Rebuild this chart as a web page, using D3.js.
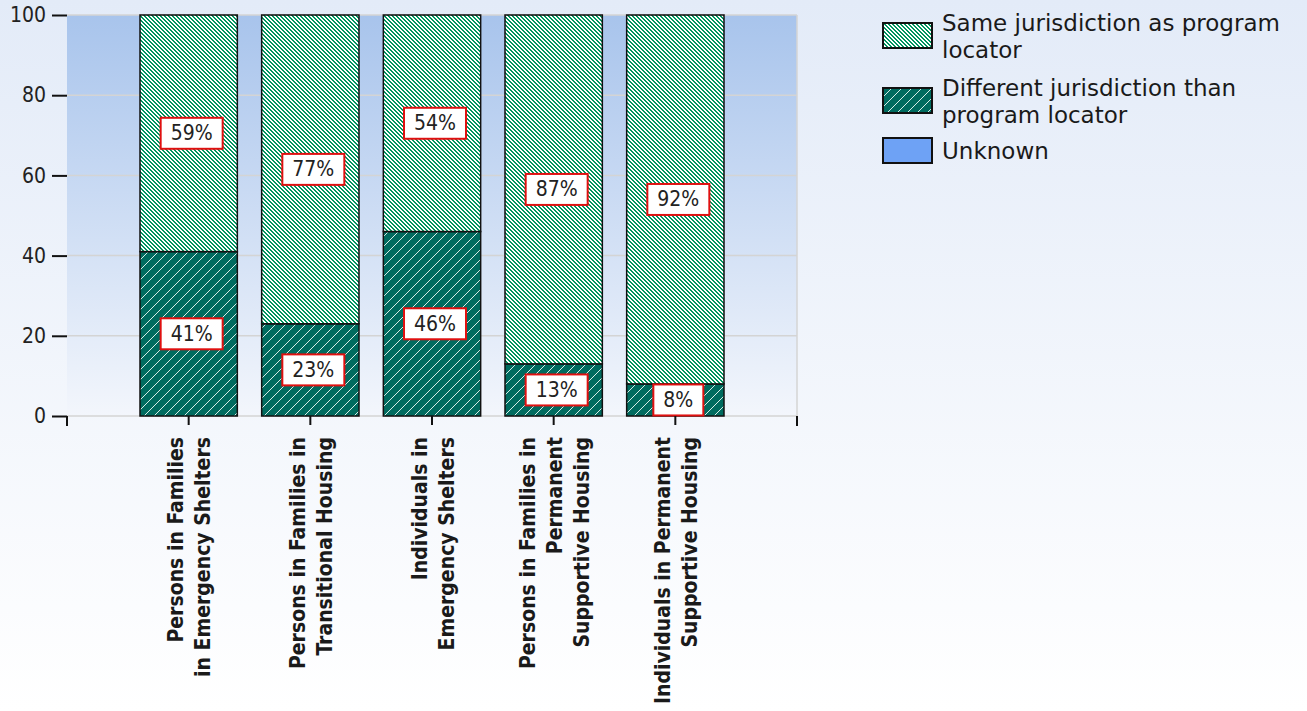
<!DOCTYPE html>
<html>
<head>
<meta charset="utf-8">
<script src="https://cdn.jsdelivr.net/npm/d3@7"></script>
<style>
  html, body { margin: 0; padding: 0; }
  body { width: 1307px; height: 711px; overflow: hidden; }
</style>
</head>
<body>
<svg id="chart" width="1307" height="711"></svg>
<script>
// ---------------- data ----------------
const categories = [
  "Persons in Families in Emergency Shelters",
  "Persons in Families in Transitional Housing",
  "Individuals in Emergency Shelters",
  "Persons in Families in Permanent Supportive Housing",
  "Individuals in Permanent Supportive Housing"
];
const categoryLines = [
  ["Persons in Families", "in Emergency Shelters"],
  ["Persons in Families in", "Transitional Housing"],
  ["Individuals in", "Emergency Shelters"],
  ["Persons in Families in", "Permanent", "Supportive Housing"],
  ["Individuals in Permanent", "Supportive Housing"]
];
const differentJurisdiction = [41, 23, 46, 13, 8];
const sameJurisdiction = [59, 77, 54, 87, 92];
const unknownJurisdiction = [0, 0, 0, 0, 0];
const seriesNames = [
  "Same jurisdiction as program locator",
  "Different jurisdiction than program locator",
  "Unknown"
];
const legendLines = [
  ["Same jurisdiction as program", "locator"],
  ["Different jurisdiction than", "program locator"],
  ["Unknown"]
];
const yTicks = [0, 20, 40, 60, 80, 100];

// ---------------- layout ----------------
const svg = d3.select("#chart");
const W = 1307, H = 711;
const plot = { left: 67, right: 797, top: 15, bottom: 416 };
const FONT = "'DejaVu Sans Condensed', 'DejaVu Sans', sans-serif";

const defs = svg.append("defs");

// page background gradient
const bgGrad = defs.append("linearGradient").attr("id", "bgGrad")
  .attr("x1", 0).attr("y1", 0).attr("x2", 0).attr("y2", 1);
bgGrad.append("stop").attr("offset", "0%").attr("stop-color", "#e3ebf8");
bgGrad.append("stop").attr("offset", "100%").attr("stop-color", "#ffffff");

// plot background gradient
const plotGrad = defs.append("linearGradient").attr("id", "plotGrad")
  .attr("x1", 0).attr("y1", 0).attr("x2", 0).attr("y2", 1);
plotGrad.append("stop").attr("offset", "0%").attr("stop-color", "#a8c4ec");
plotGrad.append("stop").attr("offset", "100%").attr("stop-color", "#f3f6fc");

// hatch patterns (pixel-staircase diagonals)
const lightPat = defs.append("pattern").attr("id", "patSame")
  .attr("patternUnits", "userSpaceOnUse").attr("width", 4).attr("height", 4);
lightPat.append("rect").attr("width", 4).attr("height", 4).attr("fill", "#ffffff");
d3.range(4).forEach(r => {
  [r, (r + 1) % 4].forEach(c => {
    lightPat.append("rect").attr("x", c).attr("y", r).attr("width", 1).attr("height", 1)
      .attr("fill", "#00955f").attr("shape-rendering", "crispEdges");
  });
});

const darkPat = defs.append("pattern").attr("id", "patDiff")
  .attr("patternUnits", "userSpaceOnUse").attr("width", 10).attr("height", 10);
darkPat.append("rect").attr("width", 10).attr("height", 10).attr("fill", "#006b5f");
d3.range(10).forEach(r => {
  darkPat.append("rect").attr("x", 9 - r).attr("y", r).attr("width", 1).attr("height", 1)
    .attr("fill", "#d6ece6").attr("shape-rendering", "crispEdges");
});

svg.append("rect").attr("width", W).attr("height", H).attr("fill", "url(#bgGrad)");

// scales
const x = d3.scaleBand().domain(categories)
  .range([plot.left, plot.right]).paddingInner(0.2).paddingOuter(0.6);
const y = d3.scaleLinear().domain([0, 100]).range([plot.bottom, plot.top]);

// plot area
svg.append("rect")
  .attr("x", plot.left).attr("y", plot.top)
  .attr("width", plot.right - plot.left).attr("height", plot.bottom - plot.top)
  .attr("fill", "url(#plotGrad)");

// gridlines
svg.append("g").selectAll("line").data(yTicks).join("line")
  .attr("x1", plot.left).attr("x2", plot.right)
  .attr("y1", d => y(d)).attr("y2", d => y(d))
  .attr("stroke", "#d4d4d4").attr("stroke-width", 1.5);
svg.append("line")
  .attr("x1", plot.right).attr("x2", plot.right)
  .attr("y1", plot.top).attr("y2", plot.bottom)
  .attr("stroke", "#d4d4d4").attr("stroke-width", 1.5);

// stacked data
const rows = categories.map((c, i) => ({
  cat: c,
  different: differentJurisdiction[i],
  same: sameJurisdiction[i],
  unknown: unknownJurisdiction[i]
}));
const keys = ["different", "same", "unknown"];
const fills = { different: "url(#patDiff)", same: "url(#patSame)", unknown: "#6ea2f5" };
const stacked = d3.stack().keys(keys)(rows);

const barG = svg.append("g");
stacked.forEach(layer => {
  barG.append("g").selectAll("rect").data(layer.filter(d => d[1] - d[0] > 0)).join("rect")
    .attr("x", d => x(d.data.cat))
    .attr("width", x.bandwidth())
    .attr("y", d => y(d[1]))
    .attr("height", d => y(d[0]) - y(d[1]))
    .attr("fill", fills[layer.key])
    .attr("stroke", "#111")
    .attr("stroke-width", 1.5);
});

// value labels
const labG = svg.append("g");
stacked.forEach(layer => {
  layer.filter(d => d[1] - d[0] > 0).forEach(d => {
    const v = d[1] - d[0];
    const cx = x(d.data.cat) + x.bandwidth() / 2 + 3;
    const cy = y((d[0] + d[1]) / 2);
    const g = labG.append("g");
    const box = g.append("rect");
    const t = g.append("text")
      .attr("x", cx).attr("y", cy)
      .attr("text-anchor", "middle").attr("dominant-baseline", "central")
      .attr("font-family", FONT).attr("font-size", 21).attr("fill", "#222")
      .text(v + "%");
    const bb = t.node().getBBox();
    box.attr("x", bb.x - 10).attr("y", cy - 15.5)
      .attr("width", bb.width + 20).attr("height", 31)
      .attr("fill", "#ffffff").attr("stroke", "#e01010").attr("stroke-width", 2);
  });
});

// y axis
const yAxis = svg.append("g")
  .attr("transform", `translate(${plot.left},0)`)
  .call(d3.axisLeft(y).tickValues(yTicks).tickSize(15).tickPadding(6));
yAxis.select(".domain").remove();
yAxis.selectAll(".tick line").attr("stroke", "#111").attr("stroke-width", 2);
yAxis.selectAll(".tick text").attr("font-family", FONT).attr("font-size", 21).attr("fill", "#222");

// x axis
const xAxis = svg.append("g")
  .attr("transform", `translate(0,${plot.bottom})`)
  .call(d3.axisBottom(x).tickSize(9).tickFormat(""));
xAxis.select(".domain").remove();
xAxis.selectAll(".tick line").attr("stroke", "#111").attr("stroke-width", 2);
// end ticks
xAxis.append("g").selectAll("line").data(x.range()).join("line")
  .attr("x1", d => d).attr("x2", d => d).attr("y1", 0).attr("y2", 10)
  .attr("stroke", "#111").attr("stroke-width", 2);

// x category labels
const lineH = 27;
const catG = svg.append("g");
categories.forEach((c, i) => {
  const lines = categoryLines[i];
  const cx = x(c) + x.bandwidth() / 2;
  const n = lines.length;
  lines.forEach((ln, j) => {
    const bx = cx + 8 + (j - (n - 1) / 2) * lineH;
    catG.append("text")
      .attr("transform", `translate(${bx},${plot.bottom + 21}) rotate(-90)`)
      .attr("text-anchor", "end")
      .attr("font-family", FONT).attr("font-weight", "bold")
      .attr("font-size", 21).attr("fill", "#1a1a1a")
      .text(ln);
  });
});

// legend
const legItems = [
  { key: "same", y: 23 },
  { key: "different", y: 88 },
  { key: "unknown", y: 138 }
];
const legG = svg.append("g");
legItems.forEach((it, i) => {
  legG.append("rect")
    .attr("x", 883).attr("y", it.y).attr("width", 49).attr("height", 25)
    .attr("fill", fills[it.key]).attr("stroke", "#111").attr("stroke-width", 2);
  const lines = legendLines[i];
  const n = lines.length;
  lines.forEach((ln, j) => {
    legG.append("text")
      .attr("x", 942)
      .attr("y", it.y + 12.5 + 8.5 + (j - (n - 1) / 2) * 27)
      .attr("font-family", "'DejaVu Sans', sans-serif")
      .attr("font-size", 23).attr("fill", "#1a1a1a")
      .text(ln);
  });
});
</script>
</body>
</html>
